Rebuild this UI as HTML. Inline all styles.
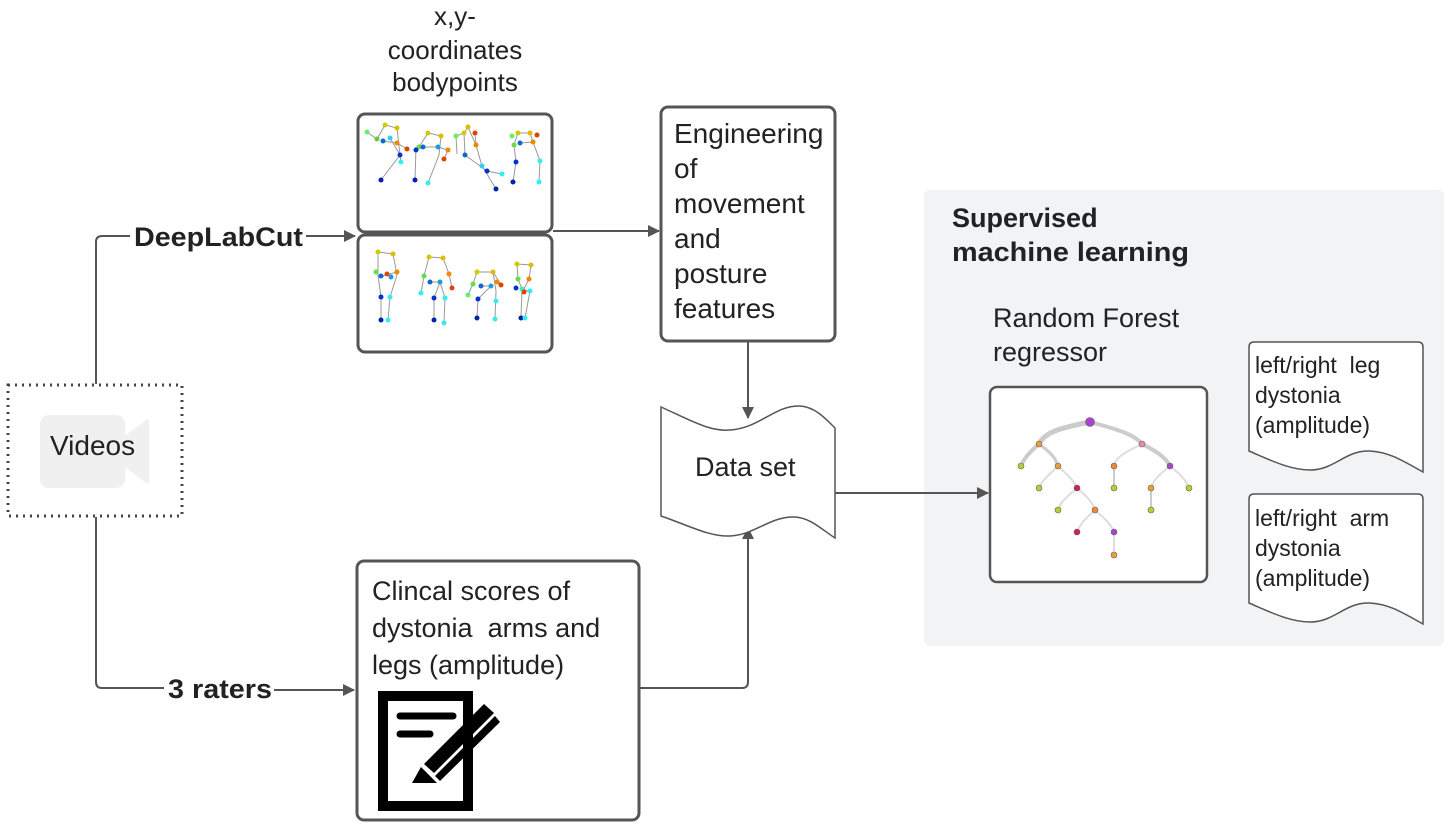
<!DOCTYPE html>
<html><head><meta charset="utf-8"><style>
html,body{margin:0;padding:0;background:#fff}
svg{display:block}
text{font-family:"Liberation Sans",sans-serif;fill:#222;white-space:pre}
</style></head><body>
<svg width="1450" height="827" viewBox="0 0 1450 827" xmlns="http://www.w3.org/2000/svg">
<defs>
<marker id="ar" markerWidth="12" markerHeight="12" refX="11" refY="6" orient="auto" markerUnits="userSpaceOnUse">
<path d="M0,0 L12,6 L0,12 Z" fill="#555"/>
</marker>
</defs>
<rect x="924" y="190" width="520" height="456" rx="6" fill="#f2f3f5"/>

<g fill="none" stroke="#555" stroke-width="2">
<path d="M96,384 V242 Q96,236 102,236 H130"/>
<path d="M306,236 H355" marker-end="url(#ar)"/>
<path d="M553,231 H659" marker-end="url(#ar)"/>
<path d="M748,342 V418" marker-end="url(#ar)"/>
<path d="M96,517 V682 Q96,688 102,688 H164"/>
<path d="M274,690 H354" marker-end="url(#ar)"/>
<path d="M640,688 H742 Q748,688 748,682 V528" marker-end="url(#ar)"/>
<path d="M835,493 H988" marker-end="url(#ar)"/>
</g>

<rect x="8" y="385" width="174" height="131" fill="#fff" stroke="#444" stroke-width="3" stroke-dasharray="2,5"/>
<rect x="40" y="415" width="85" height="73" rx="9" fill="#f0f0f0"/>
<path d="M125,436 L146,420 Q149,418 149,422 V482 Q149,485 146,483 L125,467 Z" fill="#f0f0f0"/>
<text x="50" y="455" font-size="28">Videos</text>

<text x="134" y="246" font-size="27" font-weight="bold" textLength="169" lengthAdjust="spacingAndGlyphs">DeepLabCut</text>
<text x="168" y="698" font-size="27" font-weight="bold" textLength="104" lengthAdjust="spacingAndGlyphs">3 raters</text>

<g font-size="26" text-anchor="middle">
<text x="455" y="25">x,y-</text>
<text x="455" y="59">coordinates</text>
<text x="455" y="91">bodypoints</text>
</g>

<rect x="358" y="114" width="194" height="118" rx="7" fill="#fff" stroke="#555" stroke-width="3"/>
<rect x="358" y="235" width="194" height="117" rx="7" fill="#fff" stroke="#555" stroke-width="3"/>
<g stroke="#999" stroke-width="1" fill="none">
<path d="M367,132 L377,139 L385,125 L397,128 L400,155 L381,180 M383,141 L397,143 L407,149 M390,138 L400,155 L401,162"/>
<path d="M419,147 L428,133 L441,136 L439,155 L428,183 M416,147 L415,180 M423,147 L438,147 L448,150 L444,159"/>
<path d="M456,136 L464,133 L468,127 L476,145 L482,166 L496,189 M456,136 L457,154 M464,133 L465,155 L487,171 L502,174 M476,145 L475,133"/>
<path d="M514,145 L518,133 L530,133 L533,142 L540,161 L539,182 M514,145 L516,162 L513,182 M520,143 L533,142"/>
<path d="M378,252 L378,275 L381,297 L381,320 M378,252 L393,254 L397,275 L390,297 L388,320 M383,276 L397,272"/>
<path d="M429,257 L424,276 L421,293 M429,257 L443,258 L449,274 L452,288 M430,282 L440,282 L434,298 L434,320 M440,282 L445,298 L444,323"/>
<path d="M477,272 L493,272 L496,291 L495,318 M477,272 L473,284 L468,295 M481,286 L491,286 L478,299 L477,318 M493,272 L500,283"/>
<path d="M517,264 L531,265 L529,279 L524,289 L529,292 M517,264 L518,279 L522,289 L521,318 M530,291 L525,318"/>
</g>
<g stroke="none">
<circle cx="367" cy="132" r="2.5" fill="#6e6"/><circle cx="377" cy="139" r="2.5" fill="#6c3"/><circle cx="385" cy="125" r="2.5" fill="#cc0"/><circle cx="397" cy="128" r="2.5" fill="#db0"/><circle cx="383" cy="141" r="2.5" fill="#16c"/><circle cx="390" cy="138" r="2.5" fill="#3cf"/><circle cx="397" cy="143" r="2.5" fill="#e80"/><circle cx="407" cy="149" r="2.5" fill="#d40"/><circle cx="400" cy="155" r="2.5" fill="#03c"/><circle cx="401" cy="162" r="2.5" fill="#3ee"/><circle cx="381" cy="180" r="2.5" fill="#02a"/>
<circle cx="428" cy="133" r="2.5" fill="#cc0"/><circle cx="441" cy="136" r="2.5" fill="#db0"/><circle cx="419" cy="147" r="2.5" fill="#6d4"/><circle cx="416" cy="150" r="2.5" fill="#03c"/><circle cx="423" cy="147" r="2.5" fill="#16c"/><circle cx="438" cy="147" r="2.5" fill="#29d"/><circle cx="448" cy="150" r="2.5" fill="#e80"/><circle cx="444" cy="159" r="2.5" fill="#d40"/><circle cx="415" cy="180" r="2.5" fill="#02a"/><circle cx="428" cy="183" r="2.5" fill="#3ee"/>
<circle cx="456" cy="136" r="2.5" fill="#6e6"/><circle cx="464" cy="133" r="2.5" fill="#cc0"/><circle cx="468" cy="127" r="2.5" fill="#db0"/><circle cx="475" cy="133" r="2.5" fill="#d40"/><circle cx="476" cy="145" r="2.5" fill="#e80"/><circle cx="465" cy="155" r="2.5" fill="#16c"/><circle cx="482" cy="166" r="2.5" fill="#3cf"/><circle cx="487" cy="171" r="2.5" fill="#03c"/><circle cx="502" cy="174" r="2.5" fill="#3ee"/><circle cx="496" cy="189" r="2.5" fill="#02a"/>
<circle cx="512" cy="136" r="2.5" fill="#6e6"/><circle cx="518" cy="133" r="2.5" fill="#cc0"/><circle cx="530" cy="133" r="2.5" fill="#db0"/><circle cx="537" cy="135" r="2.5" fill="#d40"/><circle cx="533" cy="142" r="2.5" fill="#e80"/><circle cx="514" cy="145" r="2.5" fill="#6d4"/><circle cx="520" cy="143" r="2.5" fill="#16c"/><circle cx="516" cy="162" r="2.5" fill="#03c"/><circle cx="540" cy="161" r="2.5" fill="#3ee"/><circle cx="513" cy="182" r="2.5" fill="#02a"/><circle cx="539" cy="182" r="2.5" fill="#3ee"/>
<circle cx="378" cy="252" r="2.5" fill="#cc0"/><circle cx="393" cy="254" r="2.5" fill="#db0"/><circle cx="376" cy="272" r="2.5" fill="#6d4"/><circle cx="387" cy="274" r="2.5" fill="#d40"/><circle cx="397" cy="272" r="2.5" fill="#e80"/><circle cx="381" cy="276" r="2.5" fill="#16c"/><circle cx="391" cy="277" r="2.5" fill="#29d"/><circle cx="381" cy="297" r="2.5" fill="#03c"/><circle cx="390" cy="297" r="2.5" fill="#3ee"/><circle cx="381" cy="320" r="2.5" fill="#02a"/><circle cx="388" cy="320" r="2.5" fill="#3ee"/>
<circle cx="429" cy="257" r="2.5" fill="#cc0"/><circle cx="443" cy="258" r="2.5" fill="#db0"/><circle cx="424" cy="276" r="2.5" fill="#6d4"/><circle cx="449" cy="274" r="2.5" fill="#e80"/><circle cx="421" cy="293" r="2.5" fill="#3ee"/><circle cx="452" cy="288" r="2.5" fill="#d40"/><circle cx="430" cy="282" r="2.5" fill="#16c"/><circle cx="440" cy="282" r="2.5" fill="#29d"/><circle cx="434" cy="298" r="2.5" fill="#03c"/><circle cx="445" cy="298" r="2.5" fill="#3ee"/><circle cx="434" cy="320" r="2.5" fill="#02a"/><circle cx="444" cy="323" r="2.5" fill="#3ee"/>
<circle cx="477" cy="272" r="2.5" fill="#cc0"/><circle cx="493" cy="272" r="2.5" fill="#db0"/><circle cx="473" cy="284" r="2.5" fill="#6d4"/><circle cx="468" cy="295" r="2.5" fill="#6e6"/><circle cx="497" cy="282" r="2.5" fill="#e80"/><circle cx="501" cy="285" r="2.5" fill="#d40"/><circle cx="481" cy="286" r="2.5" fill="#16c"/><circle cx="491" cy="286" r="2.5" fill="#29d"/><circle cx="478" cy="299" r="2.5" fill="#03c"/><circle cx="496" cy="301" r="2.5" fill="#3ee"/><circle cx="477" cy="318" r="2.5" fill="#02a"/><circle cx="495" cy="319" r="2.5" fill="#3ee"/>
<circle cx="517" cy="264" r="2.5" fill="#cc0"/><circle cx="531" cy="265" r="2.5" fill="#db0"/><circle cx="518" cy="279" r="2.5" fill="#6d4"/><circle cx="529" cy="279" r="2.5" fill="#e80"/><circle cx="516" cy="288" r="2.5" fill="#03c"/><circle cx="522" cy="289" r="2.5" fill="#3ec"/><circle cx="524" cy="292" r="2.5" fill="#d40"/><circle cx="530" cy="291" r="2.5" fill="#3ee"/><circle cx="521" cy="318" r="2.5" fill="#02a"/><circle cx="525" cy="318" r="2.5" fill="#3ee"/>
</g>

<rect x="661" y="107" width="174" height="234" rx="7" fill="#fff" stroke="#555" stroke-width="3"/>
<g font-size="28">
<text x="674" y="143">Engineering</text>
<text x="674" y="178">of</text>
<text x="674" y="213">movement</text>
<text x="674" y="248">and</text>
<text x="674" y="283">posture</text>
<text x="674" y="318">features</text>
</g>

<path d="M661,407 C690,420 710,432 730,430 C760,428 775,405 800,406 C815,407 825,418 835,428 V538 C820,528 810,518 795,517 C770,516 755,535 730,536 C710,537 690,526 661,516 Z" fill="#fff" stroke="#555" stroke-width="1.5"/>
<text x="695" y="476" font-size="27">Data set</text>

<rect x="357" y="561" width="282" height="259" rx="7" fill="#fff" stroke="#555" stroke-width="3"/>
<g font-size="27">
<text x="372" y="600">Clincal scores of</text>
<text x="372" y="637">dystonia  arms and</text>
<text x="372" y="674">legs (amplitude)</text>
</g>
<rect x="383" y="696" width="85" height="110" fill="none" stroke="#000" stroke-width="10"/>
<line x1="400" y1="716" x2="453" y2="716" stroke="#000" stroke-width="7" stroke-linecap="round"/>
<line x1="400" y1="734" x2="430" y2="734" stroke="#000" stroke-width="7" stroke-linecap="round"/>
<path d="M484,704 L494,713 L434,773 L424,764 Z" fill="#000"/>
<path d="M495,716 L500,722 L440,781 L435,776 Z" fill="#000"/>
<path d="M421,767 L437,783 L412,783 Z" fill="#000"/>

<g font-size="27" font-weight="bold">
<text x="952" y="227">Supervised</text>
<text x="952" y="261" textLength="237" lengthAdjust="spacingAndGlyphs">machine learning</text>
</g>
<g font-size="27">
<text x="993" y="327">Random Forest</text>
<text x="993" y="361">regressor</text>
</g>

<rect x="990" y="387" width="217" height="195" rx="7" fill="#fff" stroke="#555" stroke-width="2.5"/>
<g fill="none" stroke="#ddd" stroke-width="2">
<path d="M1090,422 C1060,428 1045,432 1039,444" stroke-width="5" stroke="#ccc"/>
<path d="M1090,422 C1120,430 1135,435 1142,444" stroke-width="4" stroke="#ccc"/>
<path d="M1039,444 C1030,452 1024,458 1021,466" stroke-width="4" stroke="#ccc"/>
<path d="M1039,444 C1050,452 1056,458 1058,466" stroke-width="3" stroke="#ccc"/>
<path d="M1142,444 C1125,452 1115,458 1114,466"/>
<path d="M1142,444 C1158,452 1166,458 1170,466" stroke-width="4" stroke="#ccc"/>
<path d="M1058,466 C1050,474 1042,480 1039,488"/>
<path d="M1058,466 C1066,474 1074,480 1077,488"/>
<path d="M1114,466 V488" stroke="#ccc"/>
<path d="M1170,466 C1160,474 1153,480 1151,488"/>
<path d="M1170,466 C1180,474 1186,480 1189,488"/>
<path d="M1077,488 C1068,496 1060,502 1058,510"/>
<path d="M1077,488 C1086,496 1093,502 1095,510"/>
<path d="M1151,488 V510" stroke="#ccc"/>
<path d="M1095,510 C1086,518 1080,524 1077,532"/>
<path d="M1095,510 C1104,518 1111,524 1114,532"/>
<path d="M1114,532 V555"/>
</g>
<g stroke="#666" stroke-width="0.6">
<circle cx="1090" cy="422" r="4.5" fill="#a4c"/>
<circle cx="1039" cy="444" r="3" fill="#e9a030"/>
<circle cx="1142" cy="444" r="3" fill="#e8a"/>
<circle cx="1021" cy="466" r="3" fill="#bc3"/>
<circle cx="1058" cy="466" r="3" fill="#e9a030"/>
<circle cx="1114" cy="466" r="3" fill="#e83"/>
<circle cx="1170" cy="466" r="3" fill="#a4c"/>
<circle cx="1039" cy="488" r="3" fill="#bc3"/>
<circle cx="1077" cy="488" r="3" fill="#c25"/>
<circle cx="1114" cy="488" r="3" fill="#bc3"/>
<circle cx="1151" cy="488" r="3" fill="#e9a030"/>
<circle cx="1189" cy="488" r="3" fill="#bc3"/>
<circle cx="1058" cy="510" r="3" fill="#bc3"/>
<circle cx="1095" cy="510" r="3" fill="#e83"/>
<circle cx="1151" cy="510" r="3" fill="#bc3"/>
<circle cx="1077" cy="532" r="3" fill="#c25"/>
<circle cx="1114" cy="532" r="3" fill="#a4c"/>
<circle cx="1114" cy="555" r="3" fill="#e9a030"/>
</g>

<path d="M1254,342 H1418 Q1423,342 1423,347 V472 C1405,462 1390,452 1370,451 C1345,450 1335,470 1310,470 C1290,470 1270,460 1249,451 V347 Q1249,342 1254,342 Z" fill="#fff" stroke="#555" stroke-width="1.5"/>
<path d="M1254,494 H1418 Q1423,494 1423,499 V624 C1405,614 1390,604 1370,603 C1345,602 1335,622 1310,622 C1290,622 1270,612 1249,603 V499 Q1249,494 1254,494 Z" fill="#fff" stroke="#555" stroke-width="1.5"/>
<g font-size="23">
<text x="1255" y="373">left/right  leg</text>
<text x="1255" y="403">dystonia</text>
<text x="1255" y="433">(amplitude)</text>
<text x="1255" y="526">left/right  arm</text>
<text x="1255" y="556">dystonia</text>
<text x="1255" y="586">(amplitude)</text>
</g>
</svg>
</body></html>
